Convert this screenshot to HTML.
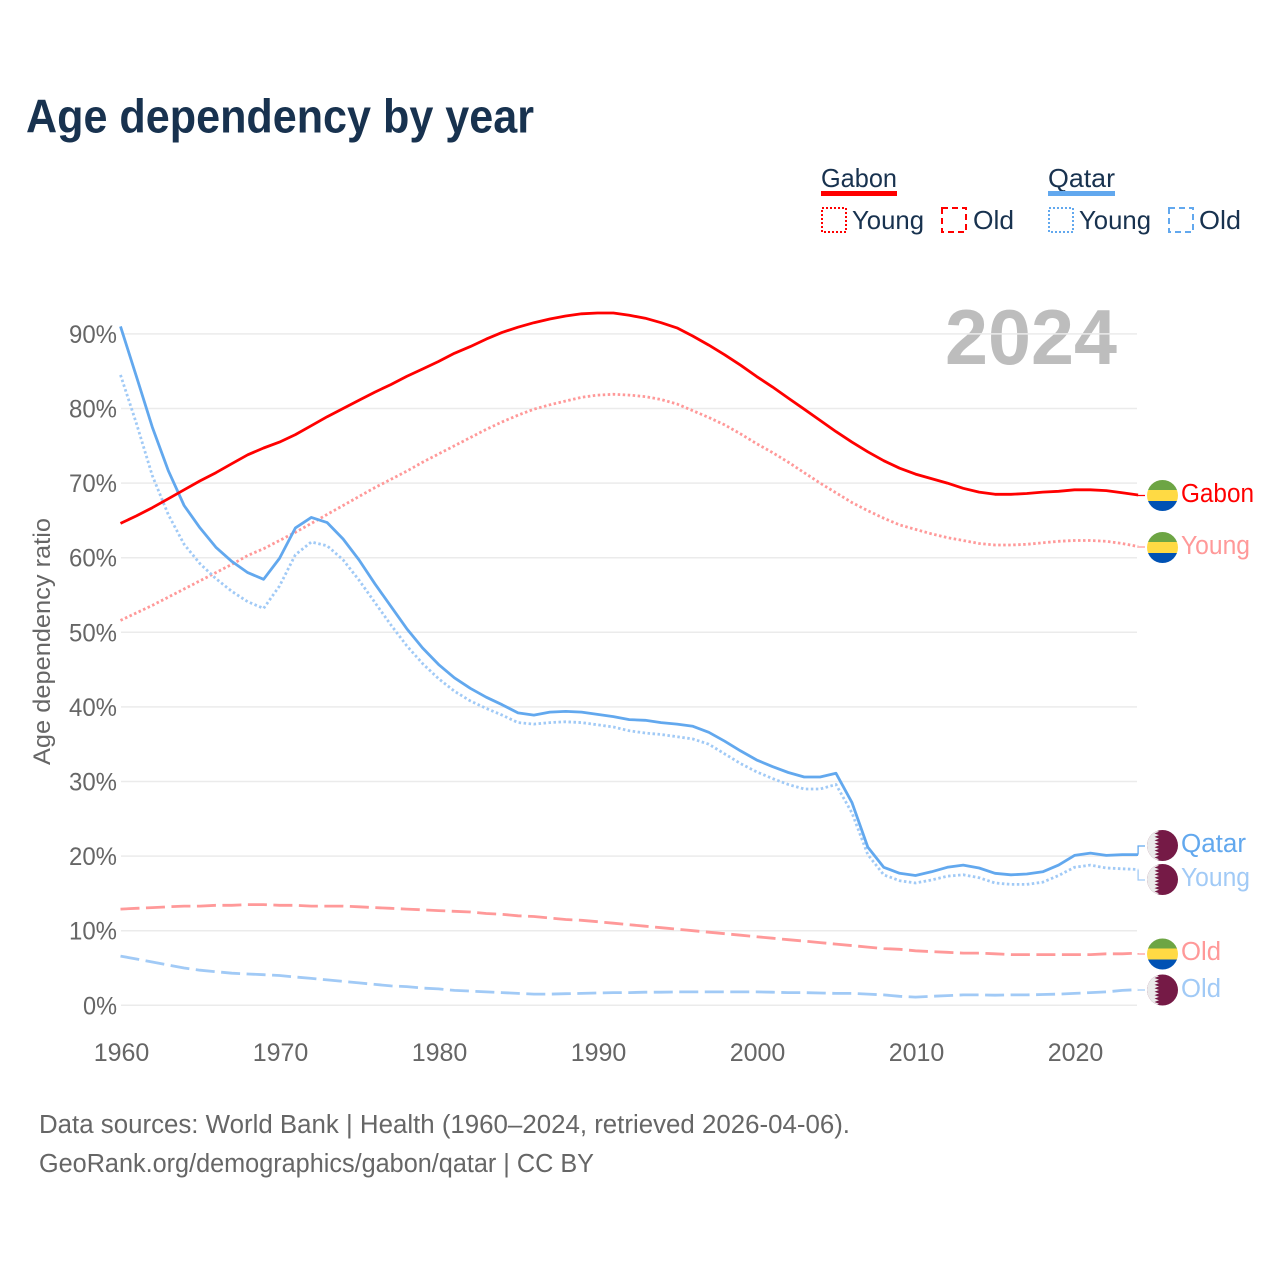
<!DOCTYPE html>
<html lang="en">
<head>
<meta charset="utf-8">
<title>Age dependency by year</title>
<style>
html,body{margin:0;padding:0;background:#fff;}
svg{display:block;font-family:"Liberation Sans",sans-serif;}
</style>
</head>
<body>
<svg id="chart" xmlns="http://www.w3.org/2000/svg" width="1280" height="1280" viewBox="0 0 1280 1280">
  <defs>
    <clipPath id="flag-clip"><circle cx="0" cy="0" r="15.5"/></clipPath>
  </defs>
  <rect x="0" y="0" width="1280" height="1280" fill="#fff"/>
  <text x="26" y="132.5" font-size="47" font-weight="700" fill="#18324f" textLength="508" lengthAdjust="spacingAndGlyphs">Age dependency by year</text>

  <g font-size="26" fill="#18324f">
    <text x="821" y="187" textLength="76" lengthAdjust="spacingAndGlyphs">Gabon</text>
    <rect x="821" y="191" width="76" height="5" fill="#ff0000"/>
    <rect x="822" y="208" width="24" height="24" fill="none" stroke="#ff0000" stroke-width="2" stroke-dasharray="2 2"/>
    <text x="852" y="229" textLength="72" lengthAdjust="spacingAndGlyphs">Young</text>
    <rect x="942" y="208" width="24" height="24" fill="none" stroke="#ff0000" stroke-width="2" stroke-dasharray="6 4"/>
    <text x="973" y="229" textLength="41" lengthAdjust="spacingAndGlyphs">Old</text>
    <text x="1048" y="187" textLength="67" lengthAdjust="spacingAndGlyphs">Qatar</text>
    <rect x="1048" y="191" width="67" height="5" fill="#62a8ee"/>
    <rect x="1049" y="208" width="24" height="24" fill="none" stroke="#62a8ee" stroke-width="2" stroke-dasharray="2 2"/>
    <text x="1079" y="229" textLength="72" lengthAdjust="spacingAndGlyphs">Young</text>
    <rect x="1169" y="208" width="24" height="24" fill="none" stroke="#62a8ee" stroke-width="2" stroke-dasharray="6 4"/>
    <text x="1199" y="229" textLength="42" lengthAdjust="spacingAndGlyphs">Old</text>
  </g>

  <text x="945" y="364" font-size="78" font-weight="700" fill="#bdbdbd" textLength="172" lengthAdjust="spacingAndGlyphs">2024</text>
  <text transform="translate(50,765) rotate(-90)" font-size="24" fill="#666" textLength="247" lengthAdjust="spacingAndGlyphs">Age dependency ratio</text>

  <g id="grid"></g>
  <g id="yticks"></g>
  <g id="xticks"></g>
  <g id="series"></g>

  <g transform="translate(1162.5,495.5)">
    <g clip-path="url(#flag-clip)"><rect x="-16" y="-16" width="32" height="11" fill="#6da544"/><rect x="-16" y="-5.5" width="32" height="11" fill="#ffda44"/><rect x="-16" y="5.5" width="32" height="11" fill="#0052b4"/></g>
  </g>
  <g transform="translate(1162.5,547.5)">
    <g clip-path="url(#flag-clip)"><rect x="-16" y="-16" width="32" height="11" fill="#6da544"/><rect x="-16" y="-5.5" width="32" height="11" fill="#ffda44"/><rect x="-16" y="5.5" width="32" height="11" fill="#0052b4"/></g>
  </g>
  <g transform="translate(1162.5,954)">
    <g clip-path="url(#flag-clip)"><rect x="-16" y="-16" width="32" height="11" fill="#6da544"/><rect x="-16" y="-5.5" width="32" height="11" fill="#ffda44"/><rect x="-16" y="5.5" width="32" height="11" fill="#0052b4"/></g>
  </g>
  <g transform="translate(1162.5,845.5)">
    <g clip-path="url(#flag-clip)"><rect x="-16" y="-16" width="32" height="32" fill="#751a46"/><polygon fill="#ebebeb" points="-16,-16 -8,-16 -8,-15.5 -3.5,-13.78 -8,-12.06 -3.5,-10.34 -8,-8.62 -3.5,-6.9 -8,-5.18 -3.5,-3.46 -8,-1.74 -3.5,-0.02 -8,1.7 -3.5,3.42 -8,5.14 -3.5,6.86 -8,8.58 -3.5,10.3 -8,12.02 -3.5,13.74 -8,15.46 -8,16 -16,16"/></g>
  </g>
  <g transform="translate(1162.5,879.5)">
    <g clip-path="url(#flag-clip)"><rect x="-16" y="-16" width="32" height="32" fill="#751a46"/><polygon fill="#ebebeb" points="-16,-16 -8,-16 -8,-15.5 -3.5,-13.78 -8,-12.06 -3.5,-10.34 -8,-8.62 -3.5,-6.9 -8,-5.18 -3.5,-3.46 -8,-1.74 -3.5,-0.02 -8,1.7 -3.5,3.42 -8,5.14 -3.5,6.86 -8,8.58 -3.5,10.3 -8,12.02 -3.5,13.74 -8,15.46 -8,16 -16,16"/></g>
  </g>
  <g transform="translate(1162.5,990)">
    <g clip-path="url(#flag-clip)"><rect x="-16" y="-16" width="32" height="32" fill="#751a46"/><polygon fill="#ebebeb" points="-16,-16 -8,-16 -8,-15.5 -3.5,-13.78 -8,-12.06 -3.5,-10.34 -8,-8.62 -3.5,-6.9 -8,-5.18 -3.5,-3.46 -8,-1.74 -3.5,-0.02 -8,1.7 -3.5,3.42 -8,5.14 -3.5,6.86 -8,8.58 -3.5,10.3 -8,12.02 -3.5,13.74 -8,15.46 -8,16 -16,16"/></g>
  </g>

  <g font-size="25.5">
    <text x="1181" y="502" fill="#ff0000" textLength="73" lengthAdjust="spacingAndGlyphs">Gabon</text>
    <text x="1181" y="554" fill="#ff9999" textLength="69" lengthAdjust="spacingAndGlyphs">Young</text>
    <text x="1181" y="852" fill="#62a8ee" textLength="65" lengthAdjust="spacingAndGlyphs">Qatar</text>
    <text x="1181" y="886" fill="#a1caf6" textLength="69" lengthAdjust="spacingAndGlyphs">Young</text>
    <text x="1181" y="960" fill="#ff9999" textLength="40" lengthAdjust="spacingAndGlyphs">Old</text>
    <text x="1181" y="997" fill="#a1caf6" textLength="40" lengthAdjust="spacingAndGlyphs">Old</text>
  </g>

  <g font-size="25.5" fill="#666">
    <text x="39" y="1133" textLength="811" lengthAdjust="spacingAndGlyphs">Data sources: World Bank | Health (1960–2024, retrieved 2026-04-06).</text>
    <text x="39" y="1172" textLength="555" lengthAdjust="spacingAndGlyphs">GeoRank.org/demographics/gabon/qatar | CC BY</text>
  </g>
</svg>
<script>
const startYear = 1960;
const yTickValues = [0, 10, 20, 30, 40, 50, 60, 70, 80, 90];
const yTickLabels = ["0%", "10%", "20%", "30%", "40%", "50%", "60%", "70%", "80%", "90%"];
const xTickYears = [1960, 1970, 1980, 1990, 2000, 2010, 2020];
const xTickLabels = ["1960", "1970", "1980", "1990", "2000", "2010", "2020"];

const gabonTotal = [
  64.6,65.6,66.7,67.9,69.1,70.3,71.4,72.6,73.8,74.7,
  75.5,76.5,77.7,78.9,80.0,81.1,82.2,83.2,84.3,85.3,
  86.3,87.4,88.3,89.3,90.2,90.9,91.5,92.0,92.4,92.7,
  92.8,92.8,92.5,92.1,91.5,90.8,89.7,88.5,87.2,85.8,
  84.3,82.9,81.4,79.9,78.4,76.9,75.5,74.2,73.0,72.0,
  71.2,70.6,70.0,69.3,68.8,68.5,68.5,68.6,68.8,68.9,
  69.1,69.1,69.0,68.7,68.4];
const gabonYoung = [
  51.6,52.6,53.6,54.7,55.8,56.9,58.0,59.1,60.3,61.2,
  62.3,63.4,64.6,65.8,67.0,68.2,69.4,70.5,71.6,72.8,
  73.9,75.0,76.1,77.2,78.2,79.1,79.9,80.5,81.0,81.5,
  81.8,81.9,81.8,81.6,81.2,80.6,79.7,78.8,77.8,76.6,
  75.3,74.1,72.8,71.4,70.0,68.7,67.4,66.3,65.3,64.4,
  63.8,63.2,62.7,62.3,61.9,61.7,61.7,61.8,62.0,62.2,
  62.3,62.3,62.2,61.9,61.5];
const gabonOld = [
  12.9,13.0,13.1,13.2,13.3,13.3,13.4,13.4,13.5,13.5,
  13.4,13.4,13.3,13.3,13.3,13.2,13.1,13.0,12.9,12.8,
  12.7,12.6,12.5,12.3,12.2,12.0,11.9,11.7,11.5,11.4,
  11.2,11.0,10.8,10.6,10.4,10.2,10.0,9.8,9.6,9.4,
  9.2,9.0,8.8,8.6,8.4,8.2,8.0,7.8,7.6,7.5,
  7.3,7.2,7.1,7.0,7.0,6.9,6.8,6.8,6.8,6.8,
  6.8,6.8,6.9,6.9,7.0];
const qatarTotal = [
  91.0,84.3,77.5,71.7,67.0,64.0,61.4,59.5,58.0,57.1,
  59.9,64.0,65.4,64.7,62.5,59.7,56.5,53.5,50.5,47.9,
  45.7,43.9,42.5,41.3,40.3,39.2,38.9,39.3,39.4,39.3,
  39.0,38.7,38.3,38.2,37.9,37.7,37.4,36.6,35.4,34.1,
  32.9,32.0,31.2,30.6,30.6,31.1,27.2,21.2,18.5,17.7,
  17.4,17.9,18.5,18.8,18.4,17.7,17.5,17.6,17.9,18.8,
  20.1,20.4,20.1,20.2,20.2];
const qatarYoung = [
  84.5,78.0,71.0,65.8,61.8,59.2,57.2,55.5,54.1,53.2,
  56.2,60.4,62.1,61.6,59.7,57.0,54.0,51.0,48.2,45.8,
  43.8,42.1,40.8,39.8,38.9,37.9,37.7,37.9,38.0,37.9,
  37.6,37.3,36.8,36.5,36.3,36.0,35.7,35.0,33.7,32.4,
  31.3,30.4,29.6,29.0,29.0,29.6,25.8,20.2,17.5,16.7,
  16.4,16.8,17.3,17.5,17.1,16.4,16.2,16.2,16.5,17.4,
  18.5,18.8,18.4,18.3,18.2];
const qatarOld = [
  6.6,6.2,5.8,5.4,5.0,4.7,4.5,4.3,4.2,4.1,
  4.0,3.8,3.6,3.4,3.2,3.0,2.8,2.6,2.5,2.3,
  2.2,2.0,1.9,1.8,1.7,1.6,1.5,1.5,1.55,1.6,
  1.65,1.7,1.7,1.75,1.75,1.8,1.8,1.8,1.8,1.8,
  1.8,1.75,1.7,1.7,1.65,1.6,1.6,1.5,1.4,1.2,
  1.1,1.2,1.3,1.4,1.4,1.35,1.4,1.4,1.45,1.5,
  1.6,1.7,1.8,2.0,2.1];

const NS = "http://www.w3.org/2000/svg";
function xScale(year) { return 120.5 + (year - 1960) * 15.9; }
function yScale(v) { return 1005.3 - v * 7.46; }
function make(tag, attrs, parent) {
  const el = document.createElementNS(NS, tag);
  for (const k in attrs) el.setAttribute(k, attrs[k]);
  parent.appendChild(el);
  return el;
}
const gridG = document.getElementById("grid");
const yTicksG = document.getElementById("yticks");
const xTicksG = document.getElementById("xticks");
const seriesG = document.getElementById("series");

yTickValues.forEach(function (v, i) {
  const line = make("line", { x1: 121, x2: 1137, y1: yScale(v), y2: yScale(v), stroke: "#ebebeb", "stroke-width": 1.5 }, gridG);
  
  
  const t = make("text", { x: 117, y: yScale(v) + 9, "text-anchor": "end", "font-size": 25, fill: "#666", textLength: yTickLabels[i].length === 2 ? 34 : 48, lengthAdjust: "spacingAndGlyphs" }, yTicksG);
  t.textContent = yTickLabels[i];
  
  
});
xTickYears.forEach(function (yr, i) {
  const t = make("text", { x: xScale(yr) + 1, y: 1061, "text-anchor": "middle", "font-size": 25, fill: "#666" }, xTicksG);
  t.textContent = xTickLabels[i];
  
  
});

function drawSeries(values, color, dash, width, name) {
  const pts = values.map(function (v, i) {
    return xScale(startYear + i).toFixed(1) + "," + yScale(v).toFixed(1);
  }).join(" ");
  const attrs = { points: pts, fill: "none", stroke: color, "stroke-width": width, "stroke-linejoin": "round" };
  if (dash) attrs["stroke-dasharray"] = dash;
  const el = make("polyline", attrs, seriesG);
  
  
  return el;
}
function drawConnector(values, targetY, color, name) {
  const lastX = xScale(startYear + values.length - 1);
  const lastY = yScale(values[values.length - 1]);
  const el = make("path", { d: "M" + lastX.toFixed(1) + " " + lastY.toFixed(1) + "V" + targetY + "H1145", fill: "none", stroke: color, "stroke-width": 1.3 }, seriesG);
  
  
}

drawSeries(gabonOld, "#ff9999", "19 6.5", 2.8, "line-gabon-old");
drawSeries(qatarOld, "#a1caf6", "19 6.5", 2.8, "line-qatar-old");
drawSeries(gabonYoung, "#ff9999", "2.5 2.5", 2.8, "line-gabon-young");
drawSeries(qatarYoung, "#a1caf6", "2.5 2.5", 2.8, "line-qatar-young");
drawSeries(qatarTotal, "#62a8ee", null, 2.8, "line-qatar-total");
drawSeries(gabonTotal, "#ff0000", null, 2.8, "line-gabon-total");

drawConnector(gabonTotal, 495.5, "#ff0000", "connector-gabon-total");
drawConnector(gabonYoung, 547, "#ff9999", "connector-gabon-young");
drawConnector(qatarTotal, 846, "#62a8ee", "connector-qatar-total");
drawConnector(qatarYoung, 880, "#a1caf6", "connector-qatar-young");
drawConnector(gabonOld, 954, "#ff9999", "connector-gabon-old");
drawConnector(qatarOld, 990, "#a1caf6", "connector-qatar-old");
</script>
</body>
</html>
